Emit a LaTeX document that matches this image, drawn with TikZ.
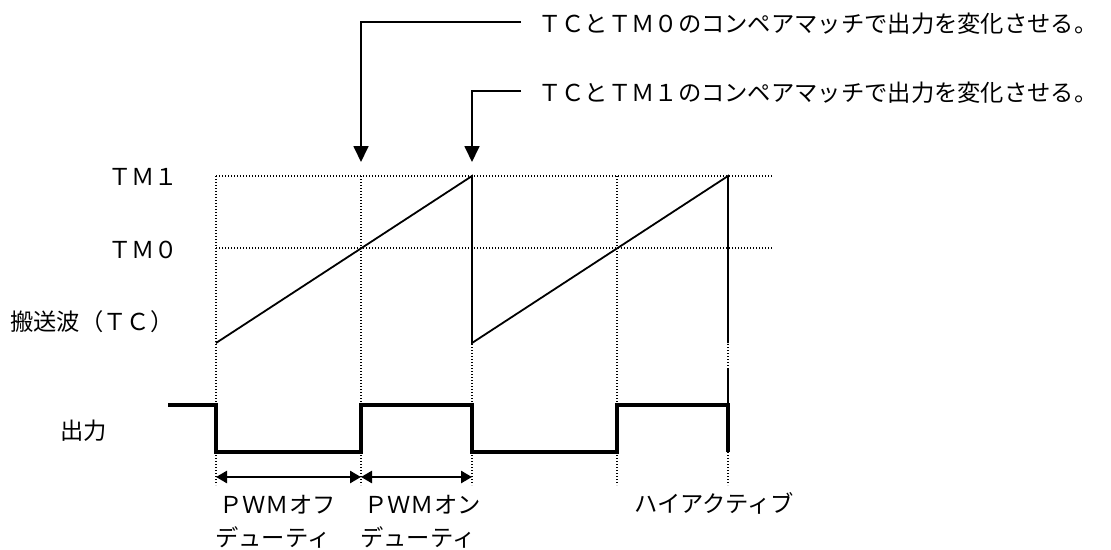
\documentclass[tikz,border=0pt]{standalone}
\usepackage{fontspec}
\setmainfont{Noto Sans CJK JP}
\usetikzlibrary{arrows.meta}
\begin{document}
\begin{tikzpicture}[x=1pt,y=-1pt,
  lbl/.style={anchor=west,inner sep=0pt,font=\fontsize{23.3}{27}\selectfont},
  grid/.style={line width=1.2pt,dash pattern=on 1.2pt off 1.8pt},
  wave/.style={line width=1.8pt,line join=miter},
  outsig/.style={line width=4pt,line join=miter},
  callout/.style={line width=1.8pt,-{Triangle[width=15pt,length=16pt]}},
  span/.style={line width=2.6pt,{Triangle[width=12pt,length=11pt]}-{Triangle[width=12pt,length=11pt]}}]
\useasboundingbox (0,0) rectangle (1111,549);
% grid coordinates
\coordinate (a1) at (216,176); \coordinate (a0) at (216,248); \coordinate (ab) at (216,343); \coordinate (ae) at (216,485);
\coordinate (b1) at (361,176); \coordinate (be) at (361,485);
\coordinate (c1) at (472,176); \coordinate (cb) at (472,343); \coordinate (ce) at (472,485);
\coordinate (d1) at (617,176); \coordinate (de) at (617,485);
\coordinate (e1) at (728,176); \coordinate (eb) at (728,343); \coordinate (ee) at (728,485);
\coordinate (r1) at (773,176); \coordinate (r0) at (773,248);
% dotted grid
\draw[grid] (a1) -- (r1);
\draw[grid] (a0) -- (r0);
\foreach \t/\b in {a1/ae,b1/be,c1/ce,d1/de,e1/ee} \draw[grid] (\t) -- (\b);
% carrier sawtooth
\draw[wave] (ab) -- (c1) -- (cb) -- (e1) -- (eb);
\coordinate (em1) at (728,368); \coordinate (em2) at (728,405);
\draw[line width=1.2pt] (em1) -- (em2);
% output signal
\coordinate (o0) at (168,405);
\draw[outsig] (o0) -- (216,405) -- (216,452) -- (361,452) -- (361,405) -- (472,405) -- (472,452) -- (617,452) -- (617,405) -- (728,405) -- (728,452);
% duty spans
\coordinate (s1) at (216,477); \coordinate (s2) at (361,477); \coordinate (s3) at (472,477);
\draw[span] (s1) -- (s2);
\draw[span] (s2) -- (s3);
% left labels
\node[lbl] (tm1) at (108,177) {ＴＭ１};
\node[lbl] (tm0) at (108,250) {ＴＭ０};
\node[lbl] (tc) at (10,322) {搬送波（ＴＣ）};
\node[lbl] (out) at (60,431) {出力};
% bottom labels
\node[lbl] (off1) at (219,505) {ＰＷＭオフ};
\node[lbl] (off2) at (215,537) {デューティ};
\node[lbl] (on1) at (364,505) {ＰＷＭオン};
\node[lbl] (on2) at (360,537) {デューティ};
\node[lbl] (ha) at (634,503) {ハイアクティブ};
% top callouts
\node[lbl] (t0) at (538,24) {ＴＣとＴＭ０のコンペアマッチで出力を変化させる。};
\node[lbl] (t1) at (538,93) {ＴＣとＴＭ１のコンペアマッチで出力を変化させる。};
\coordinate (k0) at (521,22); \coordinate (p0) at (361,162);
\coordinate (k1) at (521,91); \coordinate (p1) at (472,162);
\draw[callout] (k0) -| (p0);
\draw[callout] (k1) -| (p1);
\end{tikzpicture}
\end{document}
